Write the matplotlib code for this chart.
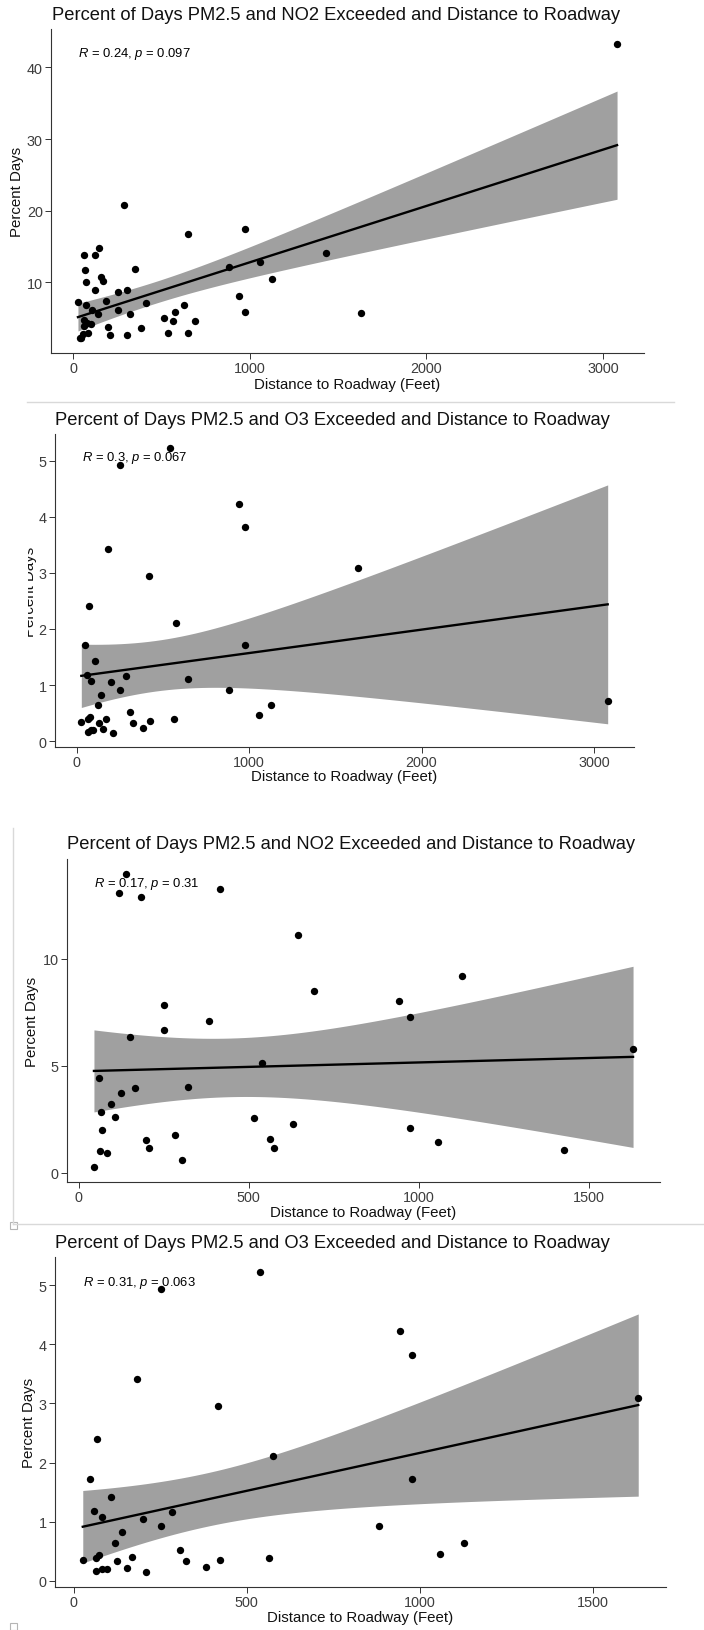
"""Four scatter panels: percent of days exceeded vs distance to roadway, with lm fit and 95% band."""

import matplotlib
matplotlib.use('Agg')
import matplotlib.pyplot as plt
from matplotlib.transforms import Bbox, TransformedBbox
from matplotlib.patches import Rectangle
from matplotlib.lines import Line2D
import numpy as np

plt.rcParams['font.family'] = ['Liberation Sans', 'DejaVu Sans']
plt.rcParams['mathtext.fontset'] = 'custom'
plt.rcParams['mathtext.it'] = 'Liberation Sans:italic'
plt.rcParams['mathtext.rm'] = 'Liberation Sans'

W, H = 704, 1631

# ---- data ----
no2_dist = [3080, 286, 975, 649, 149, 61, 124, 1431, 350, 68, 882, 1056, 157, 172, 71,
            1127, 127, 256, 304, 942, 28, 185, 73, 415, 631, 106, 256, 139, 324, 578,
            975, 1632, 63, 517, 565, 692, 81, 101, 61, 200, 385, 84, 58, 210, 307,
            540, 649, 48, 41]
no2_pct = [43.3, 20.8, 17.5, 16.8, 14.8, 13.8, 13.8, 14.1, 11.9, 11.7, 12.1, 12.8, 10.8, 10.2, 10.0,
           10.5, 8.9, 8.6, 8.9, 8.1, 7.2, 7.4, 6.9, 7.1, 6.9, 6.2, 6.1, 5.6, 5.6, 5.9,
           5.8, 5.7, 4.8, 5.0, 4.6, 4.6, 4.4, 4.2, 3.9, 3.8, 3.7, 3.0, 2.8, 2.7, 2.6,
           2.9, 3.0, 2.3, 2.2]

no2b_dist = [140, 119, 182, 416, 646, 1126, 691, 942, 974, 252, 382, 251, 152, 538, 1629,
             61, 167, 322, 124, 96, 67, 107, 515, 629, 70, 974, 283, 198, 563, 207,
             575, 1055, 1427, 63, 82, 305, 45]
no2b_pct = [13.98, 13.1, 12.9, 13.25, 11.09, 9.21, 8.48, 8.01, 7.27, 7.83, 7.07, 6.68, 6.34, 5.12, 5.76,
            4.41, 3.98, 3.99, 3.74, 3.23, 2.83, 2.58, 2.55, 2.27, 1.99, 2.10, 1.74, 1.51, 1.58, 1.16,
            1.13, 1.43, 1.04, 0.99, 0.93, 0.61, 0.25]

o3_dist = [539, 253, 943, 977, 182, 417, 1631, 68, 577, 47, 977, 108, 59, 284, 82,
           200, 253, 882, 139, 120, 1129, 307, 1059, 74, 63, 168, 26, 126, 324, 423,
           565, 383, 154, 96, 82, 65, 210]
o3_pct = [5.22, 4.93, 4.23, 3.82, 3.42, 2.95, 3.09, 2.40, 2.11, 1.72, 1.72, 1.42, 1.18, 1.16, 1.08,
          1.05, 0.92, 0.92, 0.82, 0.64, 0.64, 0.52, 0.46, 0.43, 0.39, 0.40, 0.35, 0.33, 0.33, 0.36,
          0.39, 0.23, 0.21, 0.20, 0.20, 0.16, 0.15]
# extra sites only in the second panel
o3_extra_dist = [646, 3080]
o3_extra_pct = [1.11, 0.72]

titles = ['Percent of Days PM2.5 and NO2 Exceeded and Distance to Roadway',
          'Percent of Days PM2.5 and O3 Exceeded and Distance to Roadway',
          'Percent of Days PM2.5 and NO2 Exceeded and Distance to Roadway',
          'Percent of Days PM2.5 and O3 Exceeded and Distance to Roadway']
stat_labels = [r'$\it{R}$ = 0.24, $\it{p}$ = 0.097',
               r'$\it{R}$ = 0.3, $\it{p}$ = 0.067',
               r'$\it{R}$ = 0.17, $\it{p}$ = 0.31',
               r'$\it{R}$ = 0.31, $\it{p}$ = 0.063']
x_ticks = [[0, 1000, 2000, 3000], [0, 1000, 2000, 3000], [0, 500, 1000, 1500], [0, 500, 1000, 1500]]
y_ticks = [[10, 20, 30, 40], [0, 1, 2, 3, 4, 5], [0, 5, 10], [0, 1, 2, 3, 4, 5]]

datasets = [(no2_dist, no2_pct),
            (o3_dist + o3_extra_dist, o3_pct + o3_extra_pct),
            (no2b_dist, no2b_pct),
            (o3_dist, o3_pct)]

# panel layout in pixels: axes frame (l, t, r, b), title (x, baseline), ylabel x, xlabel y
frames = [(51, 30, 644, 354), (55, 435, 634, 748), (67, 860, 660, 1183), (55, 1258, 666, 1588)]
title_pos = [(52, 20), (55, 425), (67, 849), (55, 1248)]
ylab_x = [17, 30, 32, 29]
xlab_y = [385, 777, 1213, 1618]


def t_quantile(df, z=1.959964):
    # Cornish-Fisher expansion for the 0.975 quantile of Student's t
    g1 = (z**3 + z) / 4
    g2 = (5 * z**5 + 16 * z**3 + 3 * z) / 96
    g3 = (3 * z**7 + 19 * z**5 + 17 * z**3 - 15 * z) / 384
    return z + g1 / df + g2 / df**2 + g3 / df**3


def lm_band(x, y, n_grid=80):
    x = np.asarray(x, float)
    y = np.asarray(y, float)
    n = len(x)
    b, a = np.polyfit(x, y, 1)
    xs = np.linspace(x.min(), x.max(), n_grid)
    yhat = a + b * xs
    s = np.sqrt(np.sum((y - (a + b * x)) ** 2) / (n - 2))
    sxx = np.sum((x - x.mean()) ** 2)
    se = s * np.sqrt(1 / n + (xs - x.mean()) ** 2 / sxx)
    t = t_quantile(n - 2)
    return xs, yhat, yhat - t * se, yhat + t * se


fig = plt.figure(figsize=(W / 100, H / 100), dpi=100, facecolor='white')

for i, (dist, pct) in enumerate(datasets):
    l, t, r, b = frames[i]
    ax = fig.add_axes([l / W, 1 - b / H, (r - l) / W, (b - t) / H])
    x = np.asarray(dist, float)
    y = np.asarray(pct, float)
    xs, yhat, lo, hi = lm_band(x, y)

    ax.fill_between(xs, lo, hi, color='#a0a0a0', lw=0, zorder=1)
    ax.scatter(x, y, s=28, color='black', lw=0, zorder=2)
    ax.plot(xs, yhat, color='black', lw=1.7, zorder=3)

    xr = x.max() - x.min()
    ax.set_xlim(x.min() - 0.05 * xr, x.max() + 0.05 * xr)
    ymin = min(y.min(), lo.min())
    ymax = max(y.max(), hi.max())
    yr = ymax - ymin
    ax.set_ylim(ymin - 0.05 * yr, ymax + 0.05 * yr)

    ax.set_xticks(x_ticks[i])
    ax.set_yticks(y_ticks[i])
    ax.tick_params(length=4, width=0.7, color='#333333', labelcolor='#3d3d3d',
                   labelsize=10.4, pad=2)
    for side in ['top', 'right']:
        ax.spines[side].set_visible(False)
    for side in ['left', 'bottom']:
        ax.spines[side].set_linewidth(0.8)
        ax.spines[side].set_color('#333333')

    ax.text(0.046, 0.925, stat_labels[i], transform=ax.transAxes, ha='left', va='center',
            fontsize=9.4, color='black', zorder=4)

    tx, ty = title_pos[i]
    fig.text(tx / W, 1 - ty / H, titles[i], ha='left', va='baseline', fontsize=13.2,
             color='#111111')
    fig.text(((l + r) / 2) / W, 1 - xlab_y[i] / H, 'Distance to Roadway (Feet)',
             ha='center', va='center', fontsize=10.8, color='#111111')
    yl = fig.text(ylab_x[i] / W, 1 - ((t + b) / 2) / H, 'Percent Days', rotation=90,
                  ha='center', va='center', fontsize=10.8, color='#111111')
    if i == 1:
        # second screenshot is cropped at its left edge
        yl.set_clip_box(TransformedBbox(Bbox([[28 / W, 0], [1, 1]]), fig.transFigure))
        yl.set_clip_on(True)

# screenshot separators
sep = '#d9d9d9'
fig.add_artist(Line2D([27 / W, 674 / W], [1 - 403 / H, 1 - 403 / H], color=sep, lw=1))
fig.add_artist(Line2D([13 / W, 13 / W], [1 - 829 / H, 1 - 1225 / H], color=sep, lw=1))
fig.add_artist(Line2D([13 / W, 1], [1 - 1225 / H, 1 - 1225 / H], color=sep, lw=1))
for yy in [1223, 1624]:
    fig.add_artist(Rectangle((10 / W, 1 - (yy + 7) / H), 7 / W, 7 / H, transform=fig.transFigure,
                             facecolor='white', edgecolor='#b5b5b5', lw=0.8))

fig.savefig('out.png', dpi=100, facecolor='white')
